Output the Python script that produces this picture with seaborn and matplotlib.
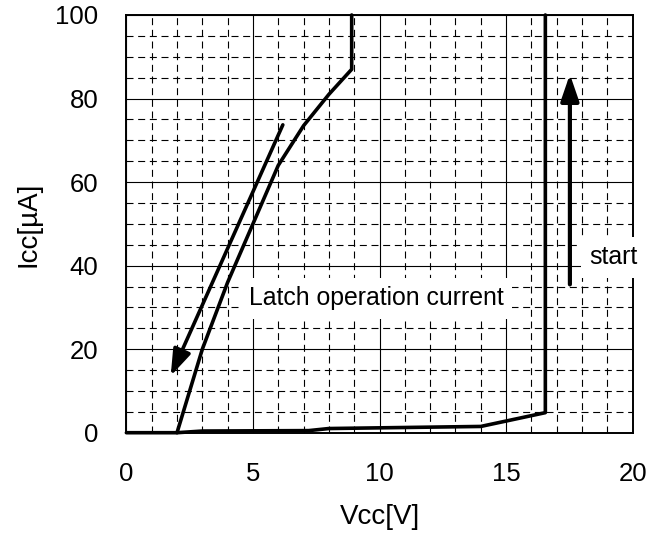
import matplotlib
matplotlib.use("Agg")
import matplotlib.pyplot as plt
import seaborn as sns
import pandas as pd
from matplotlib.ticker import MultipleLocator
from matplotlib.patches import FancyArrowPatch

# ---- data ----
start_vcc = [0.0, 2.0, 3.0, 7.2, 8.0, 14.0, 16.55, 16.55]
start_icc = [0.0, 0.0, 0.4, 0.5, 1.0, 1.5, 4.8, 100.0]

latch_vcc = [8.9, 8.9, 8.0, 7.0, 6.0, 5.0, 4.0, 3.0, 2.0]
latch_icc = [100.0, 87.0, 81.0, 73.5, 64.0, 50.0, 36.0, 20.0, 0.0]

x_ticks = [0, 5, 10, 15, 20]
y_ticks = [0, 20, 40, 60, 80, 100]

latch_arrow_from = (6.18, 73.7)
latch_arrow_to = (1.75, 13.6)
start_arrow_from = (17.52, 35.5)
start_arrow_to = (17.52, 85.8)

sns.set_style("white")
plt.rcParams['font.family'] = ['Liberation Sans', 'DejaVu Sans']
plt.rcParams.update({"text.color": "black", "axes.labelcolor": "black",
                     "xtick.color": "black", "ytick.color": "black"})

fig = plt.figure(figsize=(6.6, 5.35), dpi=100)
ax = fig.add_axes([0.1915, 0.1912, 0.7671, 0.7808])

df_start = pd.DataFrame({"Vcc": start_vcc, "Icc": start_icc})
df_latch = pd.DataFrame({"Vcc": latch_vcc, "Icc": latch_icc})

sns.lineplot(data=df_start, x="Vcc", y="Icc", sort=False, estimator=None,
             color="black", lw=2.6, ax=ax, clip_on=False, zorder=4)
sns.lineplot(data=df_latch, x="Vcc", y="Icc", sort=False, estimator=None,
             color="black", lw=2.6, ax=ax, clip_on=False, zorder=4)

ax.set_xlim(0, 20)
ax.set_ylim(0, 100)
ax.set_xticks(x_ticks)
ax.set_yticks(y_ticks)
ax.xaxis.set_minor_locator(MultipleLocator(1))
ax.yaxis.set_minor_locator(MultipleLocator(5))

ax.grid(which="major", color="black", lw=0.8, ls="-")
ax.grid(which="minor", color="black", lw=0.8, ls=(0, (6.3, 4.2)))
ax.set_axisbelow(True)

ax.tick_params(which="both", length=0)
ax.tick_params(axis="x", labelsize=18.5, pad=21)
ax.tick_params(axis="y", labelsize=18.5, pad=20)

for s in ax.spines.values():
    s.set_color("black")
    s.set_linewidth(1.4)

ax.set_xlabel("Vcc[V]", fontsize=20, labelpad=13)
ax.set_ylabel("Icc[µA]", fontsize=20, labelpad=10)

for a, b, lw in [(latch_arrow_from, latch_arrow_to, 2.6),
                 (start_arrow_from, start_arrow_to, 3.0)]:
    arr = FancyArrowPatch(a, b, arrowstyle="-|>,head_length=1.6,head_width=0.55",
                          mutation_scale=10, color="black", lw=lw, zorder=5,
                          shrinkA=0, shrinkB=0)
    ax.add_patch(arr)

ax.text(9.87, 32.2, "Latch operation current", fontsize=17.9, ha="center", va="center",
        zorder=6, bbox=dict(facecolor="white", edgecolor="none", pad=6))
ax.text(19.23, 42.0, "start", fontsize=17.9, ha="center", va="center",
        zorder=6, clip_on=False,
        bbox=dict(facecolor="white", edgecolor="none", pad=6))

fig.savefig("out.png", dpi=100)
